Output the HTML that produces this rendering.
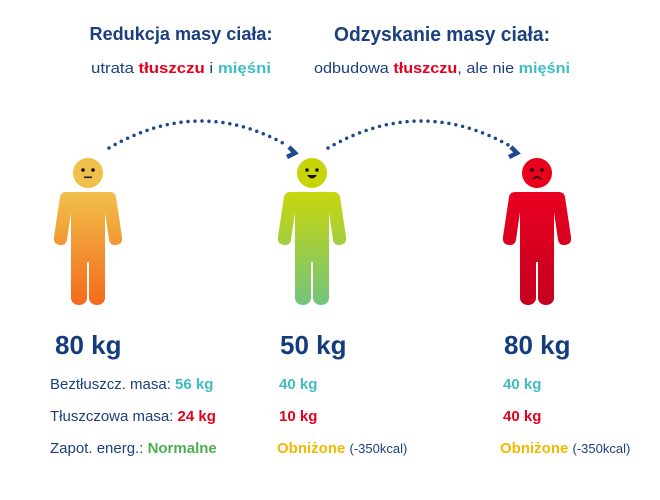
<!DOCTYPE html>
<html><head><meta charset="utf-8"><style>
html,body{margin:0;padding:0;background:#fff;width:660px;height:500px;overflow:hidden}
svg text{font-family:"Liberation Sans",sans-serif}
</style></head><body>
<svg width="660" height="500" viewBox="0 0 660 500">
<defs>
<linearGradient id="gO" gradientUnits="userSpaceOnUse" x1="0" y1="192" x2="0" y2="305"><stop offset="0" stop-color="#f1c04a"/><stop offset="1" stop-color="#f46a1c"/></linearGradient>
<linearGradient id="gG" gradientUnits="userSpaceOnUse" x1="0" y1="192" x2="0" y2="305"><stop offset="0" stop-color="#c8d60c"/><stop offset="1" stop-color="#74c47c"/></linearGradient>
<linearGradient id="gR" gradientUnits="userSpaceOnUse" x1="0" y1="192" x2="0" y2="305"><stop offset="0" stop-color="#ea0020"/><stop offset="1" stop-color="#c4001e"/></linearGradient>
<g id="body">
<path d="M -22,192 H 22 Q 27,192 28,197 L 34,237 Q 35,245 27,245 Q 22,245 21,240 L 17,212 V 262 H -17 V 212 L -21,240 Q -22,245 -27,245 Q -35,245 -34,237 L -28,197 Q -27,192 -22,192 Z"/>
<path d="M -17,250 H -1 V 298 A 8,7 0 0 1 -17,298 Z"/>
<path d="M 1,250 H 17 V 298 A 8,7 0 0 1 1,298 Z"/>
</g>
</defs>

<text x="181" y="40" text-anchor="middle" font-size="18" font-weight="bold" fill="#1b3f7f" textLength="183" lengthAdjust="spacingAndGlyphs">Redukcja masy ciała:</text>
<text x="181" y="73" text-anchor="middle" font-size="15" fill="#1b3f7f" textLength="180" lengthAdjust="spacingAndGlyphs">utrata <tspan fill="#e4001f" font-weight="bold">tłuszczu</tspan> i <tspan fill="#3dbdc6" font-weight="bold">mięśni</tspan></text>
<text x="442" y="41" text-anchor="middle" font-size="20" font-weight="bold" fill="#1b3f7f" textLength="216" lengthAdjust="spacingAndGlyphs">Odzyskanie masy ciała:</text>
<text x="442" y="73" text-anchor="middle" font-size="15" fill="#1b3f7f" textLength="256" lengthAdjust="spacingAndGlyphs">odbudowa <tspan fill="#e4001f" font-weight="bold">tłuszczu</tspan>, ale nie <tspan fill="#3dbdc6" font-weight="bold">mięśni</tspan></text>

<g fill="none" stroke="#1d4a8c" stroke-width="3.5" stroke-linecap="round">
<path d="M 109,148 Q 200,95 288,146" stroke-dasharray="0 7"/>
<path d="M 289,147 L 295,153 L 287,157" stroke-width="4.5" stroke-linecap="butt"/>
</g>
<g fill="none" stroke="#1d4a8c" stroke-width="3.5" stroke-linecap="round">
<path d="M 328,148 Q 420,95 510,146" stroke-dasharray="0 7"/>
<path d="M 511,147 L 517,153 L 509,157" stroke-width="4.5" stroke-linecap="butt"/>
</g>

<g transform="translate(88,0)">
<circle cx="0" cy="173" r="15" fill="#f0c04a"/>
<circle cx="-5" cy="170" r="1.8" fill="#111"/><circle cx="5" cy="170" r="1.8" fill="#111"/>
<rect x="-4" y="176.5" width="8" height="1.6" fill="#222"/>
<use href="#body" fill="url(#gO)"/>
</g>
<g transform="translate(312,0)">
<circle cx="0" cy="173" r="15" fill="#c8d40a"/>
<circle cx="-5" cy="170" r="1.8" fill="#111"/><circle cx="5" cy="170" r="1.8" fill="#111"/>
<path d="M -5,175 H 5 Q 0,182 -5,175 Z" fill="#111"/>
<use href="#body" fill="url(#gG)"/>
</g>
<g transform="translate(537,0)">
<circle cx="0" cy="173" r="15" fill="#e8001c"/>
<circle cx="-5" cy="170" r="1.8" fill="#111"/><circle cx="5" cy="170" r="1.8" fill="#111"/>
<path d="M -4,179 Q 0,175 4,179" fill="none" stroke="#111" stroke-width="1.6"/>
<use href="#body" fill="url(#gR)"/>
</g>

<g font-size="26" font-weight="bold" fill="#133c7c">
<text x="55" y="354">80 kg</text>
<text x="280" y="354">50 kg</text>
<text x="504" y="354">80 kg</text>
</g>

<g font-size="15" fill="#1b3f7f">
<text x="50" y="389">Beztłuszcz. masa: <tspan fill="#3dbdc6" font-weight="bold">56 kg</tspan></text>
<text x="50" y="421">Tłuszczowa masa: <tspan fill="#e4001f" font-weight="bold">24 kg</tspan></text>
<text x="50" y="453">Zapot. energ.: <tspan fill="#4caf50" font-weight="bold">Normalne</tspan></text>

<text x="279" y="389" fill="#3dbdc6" font-weight="bold">40 kg</text>
<text x="279" y="421" fill="#e4001f" font-weight="bold">10 kg</text>
<text x="277" y="453"><tspan fill="#f5b800" font-weight="bold">Obniżone</tspan> <tspan font-size="13">(-350kcal)</tspan></text>

<text x="503" y="389" fill="#3dbdc6" font-weight="bold">40 kg</text>
<text x="503" y="421" fill="#e4001f" font-weight="bold">40 kg</text>
<text x="500" y="453"><tspan fill="#f5b800" font-weight="bold">Obniżone</tspan> <tspan font-size="13">(-350kcal)</tspan></text>
</g>
</svg>
</body></html>
